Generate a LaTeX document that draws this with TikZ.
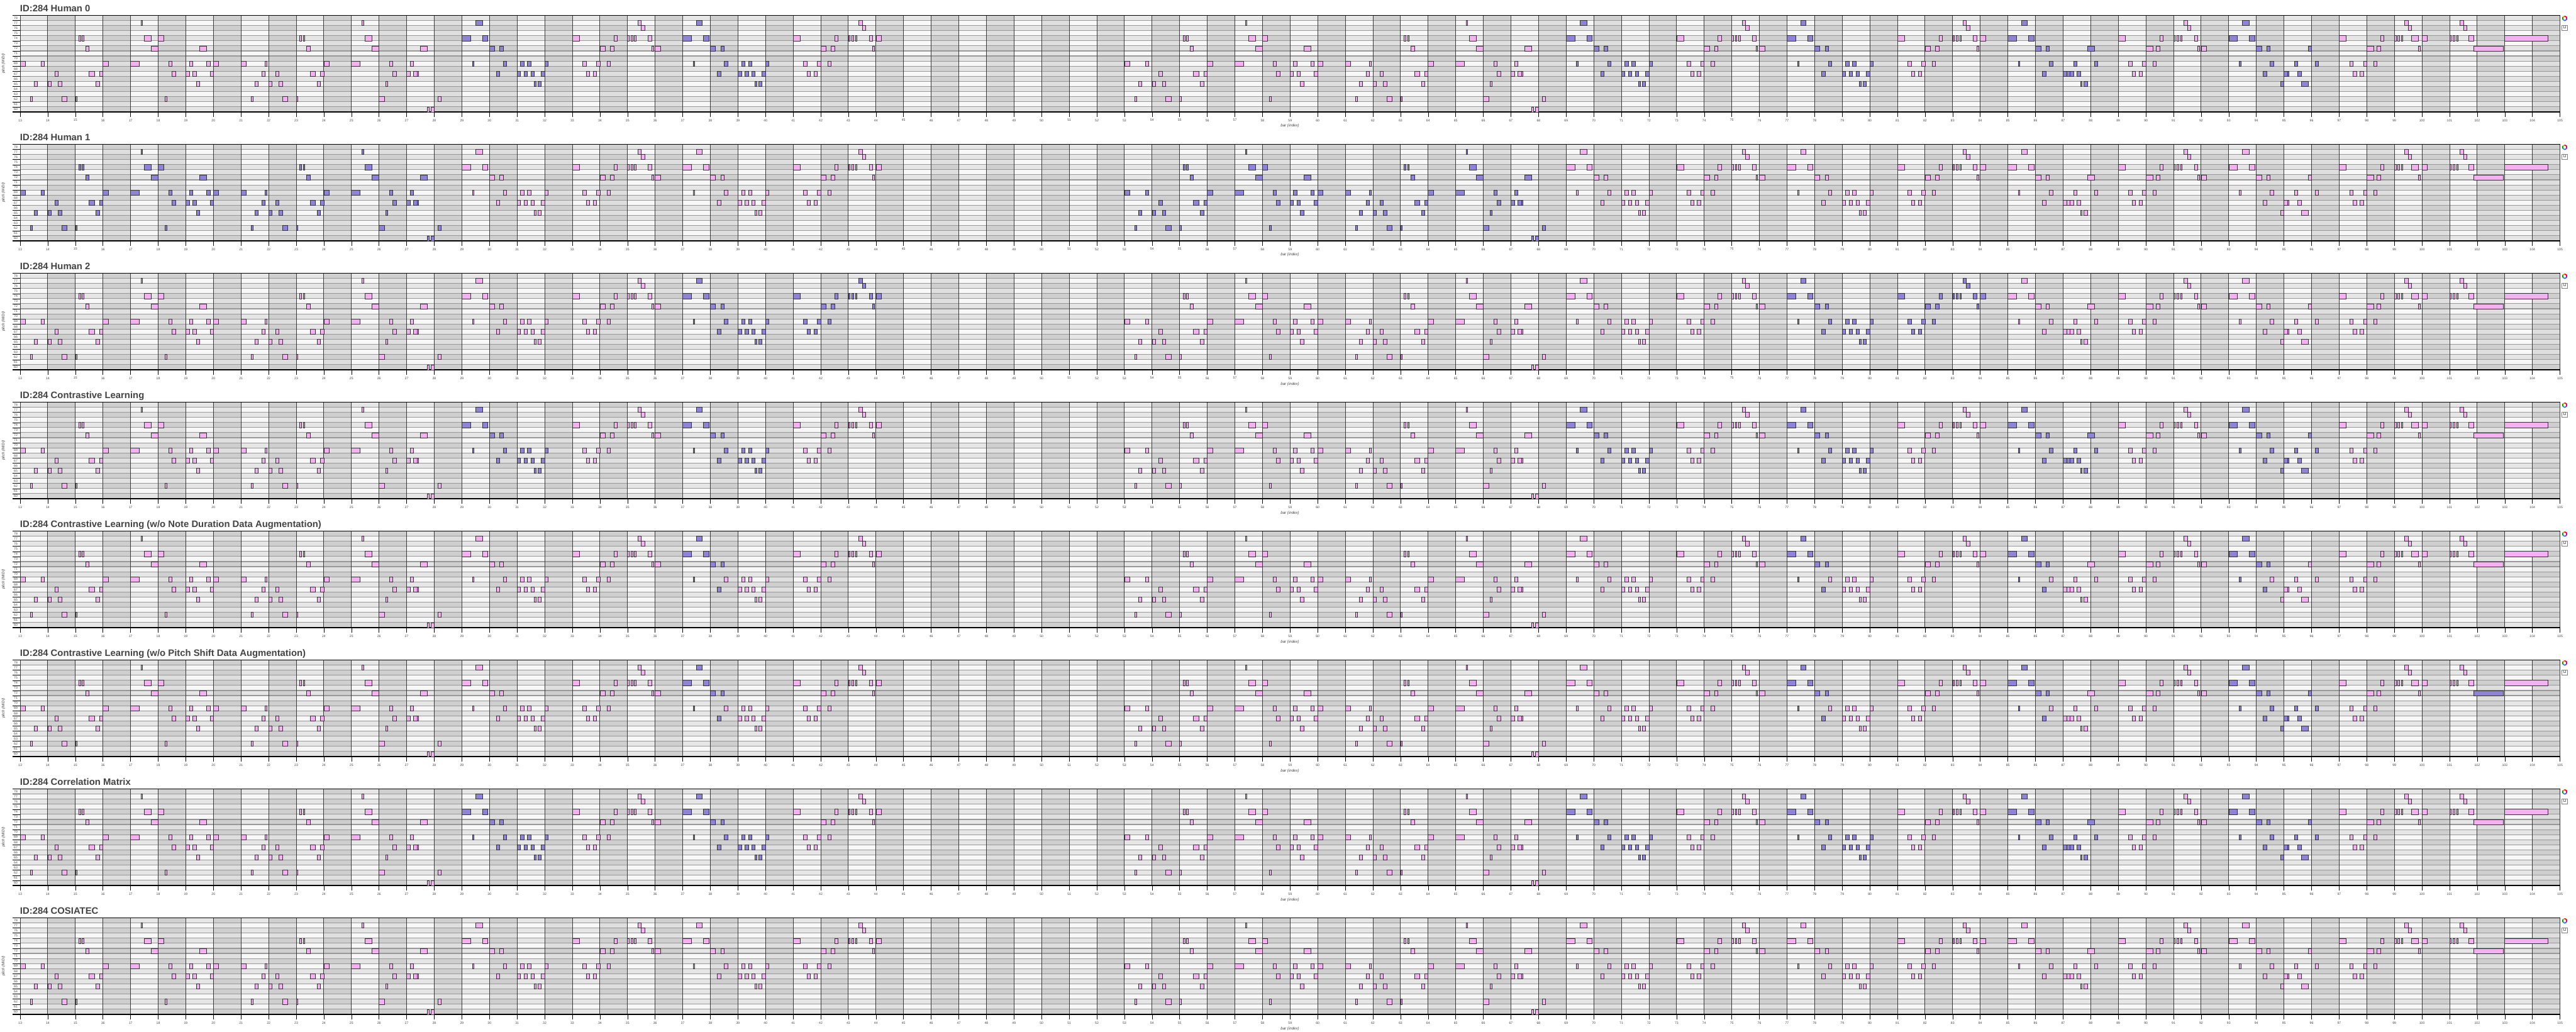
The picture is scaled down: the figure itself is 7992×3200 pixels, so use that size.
\documentclass[tikz,border=0pt]{standalone}
\usepackage{fontspec}
\setmainfont{Liberation Sans}
\usepackage{xcolor}
\usepackage{tikz}

\definecolor{rowlight}{HTML}{F8F8F8}
\definecolor{rowdark}{HTML}{E6E6E6}
\definecolor{rowgray}{HTML}{999999}
\definecolor{bargray}{HTML}{3A3A3A}
\definecolor{notepink}{HTML}{F4B0F0}
\definecolor{notepurple}{HTML}{8F82D9}
\definecolor{noteedge}{HTML}{333333}
\definecolor{labelgray}{HTML}{444444}

% one note: start (bar), length (bar), pitch; colour from the highlight list \hl
\newcommand\notebox[3]{%
  \pgfmathsetmacro\ns{#1}%
  \gdef\nc{notepink}%
  \foreach \ha/\hb in \hl {%
    \pgfmathparse{and(\ns>=\ha,\ns<\hb)}%
    \ifdim\pgfmathresult pt>0.5pt \gdef\nc{notepurple}\fi}%
  \draw[note, fill=\nc] (\ns,#3) rectangle ++(#2,1);}

\begin{document}
\begin{tikzpicture}[
    x=0.5pt, y=-0.5pt,
    note/.style={draw=noteedge, line width=0.6pt},
    rowline/.style={draw=rowgray, line width=1.1pt},
    barline/.style={draw=bargray, line width=0.9pt},
    frameline/.style={draw=black, line width=1.3pt},
    tickline/.style={draw=black, line width=0.5pt},
    ticklabel/.style={font=\fontsize{5}{6}\selectfont, text=labelgray, inner sep=0pt},
    axislabel/.style={font=\fontsize{6}{7}\selectfont\itshape, text=labelgray, inner sep=0pt},
    paneltitle/.style={font=\fontsize{14.5}{16}\selectfont\bfseries, text=labelgray, inner sep=0pt, anchor=base west},
]
\path[use as bounding box, fill=white] (0,0) rectangle (7992,3200);

% bars 13-44 (played again from bar 53)
\def\melodyA{13/.19/69,13.375/.06/62,13.5/.125/65,13.75/.125/69,
14/.125/65,14.25/.125/67,14.375/.125/65,14.5/.19/62,
15/.06/62,15.125/.06/74,15.25/.06/74,15.375/.125/72,15.5/.19/67,15.75/.125/65,15.875/.125/67,
16/.19/69,
17/.31/69,17.375/.06/77,17.5/.25/74,17.75/.25/72,
18/.19/74,18.25/.06/62,18.375/.125/69,18.5/.125/67,
19/.125/67,19.125/.125/69,19.25/.125/67,19.375/.125/65,19.5/.25/72,19.75/.125/69,19.875/.125/67,
20/.19/69,
21/.19/69,21.375/.06/62,21.5/.125/65,21.75/.125/67,21.875/.06/69,
22/.125/65,22.25/.125/67,22.375/.125/65,22.5/.19/62,
23/.06/62,23.125/.06/74,23.25/.06/74,23.375/.125/72,23.5/.19/67,23.75/.125/65,23.875/.125/67,
24/.19/69,
25/.31/69,25.375/.06/77,25.5/.25/74,25.75/.25/72,
26/.19/62,26.25/.06/65,26.375/.125/69,26.5/.125/67,
27/.125/67,27.125/.125/69,27.25/.125/67,27.375/.06/67,27.5/.25/72,27.75/.06/60,27.875/.125/60,
28.125/.125/62,
29/.31/74,29.375/.06/69,29.5/.25/77,29.75/.19/74,
30/.19/72,30.25/.125/67,30.375/.125/72,30.5/.125/69,
31/.125/67,31.125/.125/69,31.25/.125/67,31.375/.125/69,31.5/.125/67,31.625/.06/65,31.75/.125/65,31.875/.125/67,
32/.125/69,
33/.25/74,33.375/.125/69,33.5/.125/67,33.75/.125/67,33.875/.125/69,
34/.19/72,34.25/.125/69,34.375/.125/72,34.5/.125/74,
35/.06/74,35.125/.06/74,35.25/.06/74,35.375/.125/77,35.5/.125/76,35.75/.125/74,35.875/.06/72,
36/.19/72,
37/.31/74,37.375/.06/69,37.5/.19/77,37.75/.19/74,
38/.19/72,38.25/.125/67,38.375/.125/72,38.5/.125/69,
39/.125/67,39.125/.125/69,39.25/.125/67,39.375/.125/69,39.5/.125/67,39.625/.06/65,39.75/.125/65,39.875/.125/67,
40/.125/69,
41/.25/74,41.375/.125/69,41.5/.125/67,41.75/.125/67,41.875/.125/69,
42/.19/72,42.25/.125/69,42.375/.125/72,42.5/.125/74,
43/.06/74,43.125/.06/74,43.25/.06/74,43.375/.125/77,43.5/.125/76,43.75/.125/74,43.875/.06/72,
44/.19/74}
% bars 85-105
\def\melodyB{85/.31/74,85.375/.06/69,85.5/.19/77,85.75/.19/74,
86/.19/72,86.25/.125/67,86.375/.125/72,86.5/.125/69,
87/.125/67,87.125/.125/67,87.25/.125/67,87.375/.125/69,87.5/.125/67,87.625/.06/65,87.75/.125/65,87.875/.25/72,
88.125/.125/69,
89/.25/74,89.375/.125/69,89.5/.125/67,89.75/.125/67,89.875/.125/69,
90/.25/72,90.25/.125/69,90.375/.125/72,90.5/.125/74,
91/.06/74,91.125/.06/74,91.25/.06/74,91.375/.125/77,91.5/.125/76,91.75/.125/74,91.875/.06/72,
92/.19/72,
93/.31/74,93.375/.06/69,93.5/.25/77,93.75/.19/74,
94/.19/72,94.25/.125/67,94.375/.125/72,94.5/.125/69,94.875/.125/65,
95/.125/67,95.125/.06/67,95.375/.125/69,95.5/.125/67,95.625/.25/65,95.875/.125/72,
96.125/.125/69,
97/.25/74,97.375/.125/69,97.5/.125/67,97.75/.125/67,97.875/.125/69,
98/.25/72,98.25/.125/69,98.375/.125/72,98.5/.125/74,
99/.06/74,99.125/.06/74,99.25/.06/74,99.375/.125/77,99.5/.125/76,99.625/.25/74,99.875/.06/72,
100/.19/74,
101/.06/74,101.125/.06/74,101.25/.06/74,101.375/.125/77,101.5/.125/76,101.69/.19/74,101.875/1.06/72,
103/1.56/74}

\foreach \k/\ttl/\hl in {
    0/{ID:284 Human 0}/{29/32.5,37/40.5,69/72.5,77/80.5,85/88.5,93/96.5},
    1/{ID:284 Human 1}/{13/28.5,53/68.5},
    2/{ID:284 Human 2}/{37/44.5,77/84.5},
    3/{ID:284 Contrastive Learning}/{29/32.5,37/40.5,69/72.5,77/80.5,85/88.5,93/96.5},
    4/{ID:284 Contrastive Learning (w/o Note Duration Data Augmentation)}/{37/38.5,77/78.5,85/86.5,93/94.5},
    5/{ID:284 Contrastive Learning (w/o Pitch Shift Data Augmentation)}/{37/38.5,77/78.5,85/86.5,93/96.5,101.8/103},
    6/{ID:284 Correlation Matrix}/{29/32.5,37/40.5,69/72.5,77/80.5,85/88.5,93/96.5},
    7/{ID:284 COSIATEC}/{0/0}}{
  \begin{scope}[shift={(0,400*\k)}]
    \node[paneltitle] (title\k) at (62,36.7) {\ttl};
    \node[axislabel, rotate=90] (ylab\k) at (11,197) {pitch (MIDI)};
    \node[axislabel] (xlab\k) at (4002,391) {bar (index)};

    % toolbar
    \foreach \ang/\col in {90/cyan!80!blue, 150/green!60!black, 210/orange, 270/red, 330/magenta, 30/blue!70}
      \draw[\col, line width=1.6pt] (7957,57) ++(\ang:7) arc[start angle=\ang, end angle=\ang+60, radius=7];
    \draw[gray, line width=0.5pt] (7948,78) rectangle (7966,95);
    \draw[gray, line width=0.4pt] (7954,79) rectangle (7960,86);

    \begin{scope}[shift={(-1050.95,1292.74)}, x=42.825pt, y=7.88pt]
      % rows and bars
      \foreach \p in {60,62,...,78} \fill[rowdark] (13,\p) rectangle (105,\p+1);
      \foreach \p in {61,63,...,77} \fill[rowlight] (13,\p) rectangle (105,\p+1);
      \foreach \c in {14,16,...,104} \fill[black, opacity=0.1] (\c,60) rectangle (\c+1,79);
      \foreach \p in {61,...,78} \draw[rowline] (13,\p) -- (105,\p);
      \foreach \c in {14,...,104} \draw[barline] (\c,60) -- (\c,79);
      \draw[barline] (13,60) -- (13,79);
      \draw[barline] (105,60) -- (105,79);
      \draw[frameline] (12.715,79) -- (105,79);
      \draw[frameline] (12.715,60) -- (105,60);

      % axes
      \foreach \p in {61,...,78} \draw[tickline] (12.715,\p) -- (13,\p);
      \foreach \p in {60,...,78}
        \node[ticklabel, anchor=east] (yt\k-\p) at (12.91,\p+0.5) {\p};
      \foreach \c in {13,...,105} {
        \draw[tickline] (\c,60) -- (\c,58.97);
        \node[ticklabel] (xt\k-\c) at (\c,58.35) {\c};
      }

      % notes
      \foreach \o in {0,40}
        \foreach \s/\du/\p in \melodyA {\notebox{\s+\o}{\du}{\p}}
      \foreach \s/\du/\p in \melodyB {\notebox{\s}{\du}{\p}}
    \end{scope}
  \end{scope}
}
\end{tikzpicture}
\end{document}
